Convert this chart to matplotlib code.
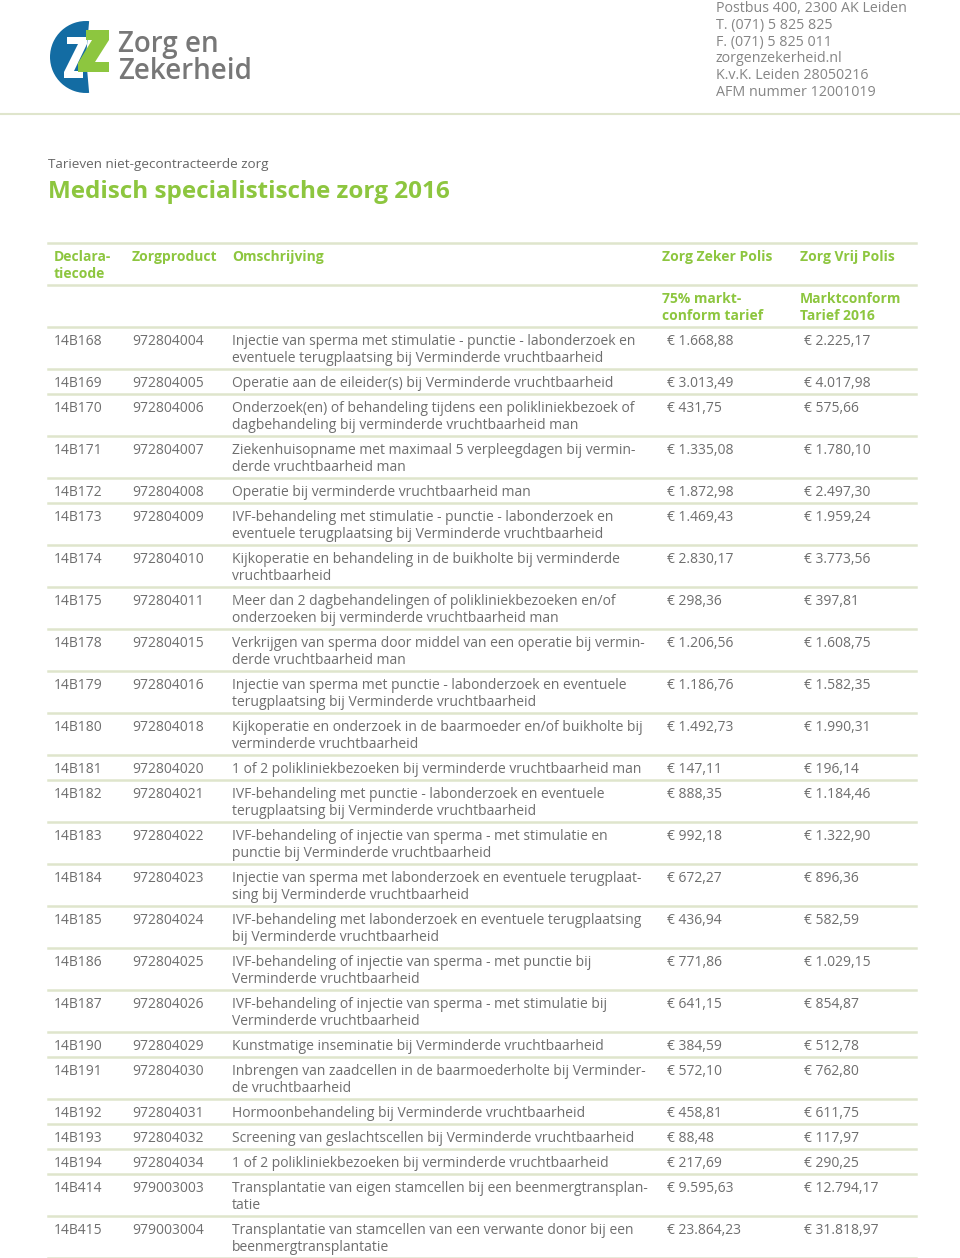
import matplotlib.pyplot as plt
from matplotlib.patches import Wedge, Polygon

plt.rcParams['font.family'] = ['Open Sans', 'DejaVu Sans']

# tabel gegevens
codes = ['14B168', '14B169', '14B170', '14B171', '14B172', '14B173', '14B174', '14B175',
         '14B178', '14B179', '14B180', '14B181', '14B182', '14B183', '14B184', '14B185',
         '14B186', '14B187', '14B190', '14B191', '14B192', '14B193', '14B194', '14B414', '14B415']
producten = ['972804004', '972804005', '972804006', '972804007', '972804008', '972804009',
             '972804010', '972804011', '972804015', '972804016', '972804018', '972804020',
             '972804021', '972804022', '972804023', '972804024', '972804025', '972804026',
             '972804029', '972804030', '972804031', '972804032', '972804034', '979003003',
             '979003004']
omschrijving = [
    'Injectie van sperma met stimulatie - punctie - labonderzoek en\neventuele terugplaatsing bij Verminderde vruchtbaarheid',
    'Operatie aan de eileider(s) bij Verminderde vruchtbaarheid',
    'Onderzoek(en) of behandeling tijdens een polikliniekbezoek of\ndagbehandeling bij verminderde vruchtbaarheid man',
    'Ziekenhuisopname met maximaal 5 verpleegdagen bij vermin-\nderde vruchtbaarheid man',
    'Operatie bij verminderde vruchtbaarheid man',
    'IVF-behandeling met stimulatie - punctie - labonderzoek en\neventuele terugplaatsing bij Verminderde vruchtbaarheid',
    'Kijkoperatie en behandeling in de buikholte bij verminderde\nvruchtbaarheid',
    'Meer dan 2 dagbehandelingen of polikliniekbezoeken en/of\nonderzoeken bij verminderde vruchtbaarheid man',
    'Verkrijgen van sperma door middel van een operatie bij vermin-\nderde vruchtbaarheid man',
    'Injectie van sperma met punctie - labonderzoek en eventuele\nterugplaatsing bij Verminderde vruchtbaarheid',
    'Kijkoperatie en onderzoek in de baarmoeder en/of buikholte bij\nverminderde vruchtbaarheid',
    '1 of 2 polikliniekbezoeken bij verminderde vruchtbaarheid man',
    'IVF-behandeling met punctie - labonderzoek en eventuele\nterugplaatsing bij Verminderde vruchtbaarheid',
    'IVF-behandeling of injectie van sperma - met stimulatie en\npunctie bij Verminderde vruchtbaarheid',
    'Injectie van sperma met labonderzoek en eventuele terugplaat-\nsing bij Verminderde vruchtbaarheid',
    'IVF-behandeling met labonderzoek en eventuele terugplaatsing\nbij Verminderde vruchtbaarheid',
    'IVF-behandeling of injectie van sperma - met punctie bij\nVerminderde vruchtbaarheid',
    'IVF-behandeling of injectie van sperma - met stimulatie bij\nVerminderde vruchtbaarheid',
    'Kunstmatige inseminatie bij Verminderde vruchtbaarheid',
    'Inbrengen van zaadcellen in de baarmoederholte bij Verminder-\nde vruchtbaarheid',
    'Hormoonbehandeling bij Verminderde vruchtbaarheid',
    'Screening van geslachtscellen bij Verminderde vruchtbaarheid',
    '1 of 2 polikliniekbezoeken bij verminderde vruchtbaarheid',
    'Transplantatie van eigen stamcellen bij een beenmergtransplan-\ntatie',
    'Transplantatie van stamcellen van een verwante donor bij een\nbeenmergtransplantatie',
]
zorg_zeker = ['1.668,88', '3.013,49', '431,75', '1.335,08', '1.872,98', '1.469,43', '2.830,17',
              '298,36', '1.206,56', '1.186,76', '1.492,73', '147,11', '888,35', '992,18',
              '672,27', '436,94', '771,86', '641,15', '384,59', '572,10', '458,81', '88,48',
              '217,69', '9.595,63', '23.864,23']
zorg_vrij = ['2.225,17', '4.017,98', '575,66', '1.780,10', '2.497,30', '1.959,24', '3.773,56',
             '397,81', '1.608,75', '1.582,35', '1.990,31', '196,14', '1.184,46', '1.322,90',
             '896,36', '582,59', '1.029,15', '854,87', '512,78', '762,80', '611,75', '117,97',
             '290,25', '12.794,17', '31.818,97']

adres = ['Postbus 400, 2300 AK Leiden', 'T. (071) 5 825 825', 'F. (071) 5 825 011',
         'zorgenzekerheid.nl', 'K.v.K. Leiden 28050216', 'AFM nummer 12001019']

groen = '#8dc63f'
grijs = '#6e6e6e'
lijn = '#dfe5cc'
blauw = '#136ca3'

fig = plt.figure(figsize=(9.6, 12.58), dpi=100)
ax = fig.add_axes([0, 0, 1, 1])
ax.set_xlim(0, 960)
ax.set_ylim(1258, 0)
ax.axis('off')

# logo
ax.add_patch(Wedge((86, 57), 36, 85, 275, color=blauw, lw=0))
ax.add_patch(Polygon([(67, 37), (87, 37), (87, 44), (74, 71), (83, 71), (83, 78), (64, 78), (64, 72), (78, 44), (67, 44)],
                     closed=True, color='white', lw=0))
ax.add_patch(Polygon([(86, 30), (109, 30), (109, 40), (95, 62), (109, 62), (109, 72),
                      (78, 72), (78, 63), (92, 40), (86, 40)], closed=True, color=groen, lw=0))
ax.text(118, 52, 'Zorg en', fontsize=20, color='#777777', fontweight='semibold', va='baseline')
ax.text(118, 79, 'Zekerheid', fontsize=20, color='#777777', fontweight='semibold', va='baseline')

for i, regel in enumerate(adres):
    ax.text(716, 12 + i * 16.8, regel, fontsize=10.3, color='#858585', va='baseline')

ax.plot([0, 960], [114, 114], color=lijn, lw=1.5)

ax.text(48, 168, 'Tarieven niet-gecontracteerde zorg', fontsize=9.7, color='#666666', va='baseline')
ax.text(48, 197.5, 'Medisch specialistische zorg 2016', fontsize=17.5, color=groen,
        fontweight='bold', va='baseline')

# kolommen
kol = [54, 132, 232, 662, 800]
x0, x1 = 48, 916
kw = dict(fontsize=10, color=groen, fontweight='bold', va='baseline')


def regels(x, y, tekst, **opts):
    for k, r in enumerate(tekst.split('\n')):
        ax.text(x, y + 17 * k, r, **opts)


for y in [243, 285, 327]:
    ax.plot([x0, x1], [y, y], color=lijn, lw=1.8)
regels(kol[0], 261, 'Declara-\ntiecode', **kw)
regels(kol[1], 261, 'Zorgproduct', **kw)
regels(kol[2], 261, 'Omschrijving', **kw)
regels(kol[3], 261, 'Zorg Zeker Polis', **kw)
regels(kol[4], 261, 'Zorg Vrij Polis', **kw)
regels(kol[3], 303, '75% markt-\nconform tarief', **kw)
regels(kol[4], 303, 'Marktconform\nTarief 2016', **kw)

tk = dict(fontsize=10, color=grijs, va='baseline')
y = 327
for c, p, o, a, b in zip(codes, producten, omschrijving, zorg_zeker, zorg_vrij):
    n = o.count('\n') + 1
    ty = y + 18
    regels(kol[0], ty, c, **tk)
    regels(kol[1], ty, p, **tk)
    regels(kol[2], ty, o, **tk)
    regels(667, ty, '€ ' + a, **tk)
    regels(804, ty, '€ ' + b, **tk)
    y += 25 + 17 * (n - 1)
    ax.plot([x0, x1], [y, y], color=lijn, lw=1.8)

fig.savefig('out.png', dpi=100)
